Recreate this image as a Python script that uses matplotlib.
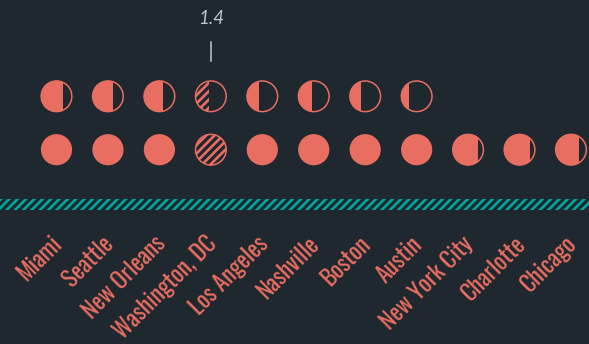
import matplotlib.pyplot as plt
import matplotlib.patches as mpatches
from matplotlib import font_manager

# cities and their score (one circle per whole unit, partial circle for the rest)
cities = ["Miami", "Seattle", "New Orleans", "Washington, DC", "Los Angeles",
          "Nashville", "Boston", "Austin", "New York City", "Charlotte", "Chicago"]
scores = [1.72, 1.65, 1.60, 1.44, 1.39, 1.43, 1.35, 1.24, 0.83, 0.82, 0.75]
highlight = "Washington, DC"

BG = "#1f272f"
CORAL = "#e86e61"
TEAL = "#00a8a0"
GREY = "#c3c7cc"


def pick_narrow_font():
    # prefer a condensed face for the city labels
    fonts = font_manager.fontManager.ttflist
    names = {f.name for f in fonts}
    for fam in ["Oswald", "Roboto Condensed", "Liberation Sans Narrow",
                "Open Sans Condensed", "Noto Sans Condensed", "DejaVu Sans Condensed"]:
        if fam in names:
            return fam, "normal"
    for fam in ["Noto Sans", "DejaVu Sans", "Open Sans"]:
        for f in fonts:
            if f.name == fam and f.stretch in ("condensed", "semi-condensed",
                                                "extra-condensed"):
                return fam, f.stretch
    return "Roboto", "normal"


label_font, label_stretch = pick_narrow_font()

W, H = 589, 344
fig = plt.figure(figsize=(W / 100, H / 100), dpi=100, facecolor=BG)
ax = fig.add_axes([0, 0, 1, 1], facecolor=BG)
ax.set_axis_off()

# pixels per data unit in x (column step) and y (row step)
px_x, px_y = 51.45, 53.4
x0, y0 = 56.5, 149.7
ax.set_xlim(-x0 / px_x, (W - x0) / px_x)
ax.set_ylim(-(H - y0) / px_y, y0 / px_y)

r_px = 15.6
rx, ry = r_px / px_x, r_px / px_y


def moon(x, y, frac, hatched=False):
    """circle filled from the left up to frac of its width"""
    clip = mpatches.Rectangle((x - rx, y - ry - 0.1), 2 * rx * frac, 2 * ry + 0.2,
                              transform=ax.transData)
    if hatched:
        plt.rcParams["hatch.linewidth"] = 1.9
        body = mpatches.Ellipse((x, y), 2 * rx, 2 * ry, facecolor="none",
                                edgecolor=CORAL, lw=0, hatch="////")
    else:
        body = mpatches.Ellipse((x, y), 2 * rx, 2 * ry, facecolor=CORAL,
                                edgecolor="none", lw=0)
    ax.add_patch(body)
    if frac < 1:
        body.set_clip_path(clip)
    if frac < 1 or hatched:
        ax.add_patch(mpatches.Ellipse((x, y), 2 * rx - 0.01, 2 * ry - 0.01,
                                      facecolor="none", edgecolor=CORAL, lw=1.1))


for i, (city, s) in enumerate(zip(cities, scores)):
    hl = city == highlight
    moon(i, 0, min(s, 1.0), hatched=hl)
    if s > 1:
        moon(i, 1, s - 1, hatched=hl)
    ax.text(i - 0.12, (y0 - 232) / px_y, city, rotation=45, rotation_mode="anchor",
            ha="right", va="top", color=CORAL, fontsize=17,
            family=[label_font, "DejaVu Sans"], fontstretch=label_stretch)

# value call-out above the highlighted city
hi = cities.index(highlight)
ax.plot([hi, hi], [(y0 - 42) / px_y, (y0 - 61) / px_y], color=GREY, lw=1.1)
ax.text(hi, (y0 - 18) / px_y, f"{scores[hi]:.1f}", ha="center", va="center",
        color=GREY, fontsize=13.5, style="italic", family="Lato")

# striped baseline band
plt.rcParams["hatch.linewidth"] = 1.9
ax.axhspan((y0 - 210) / px_y, (y0 - 198.5) / px_y, facecolor="none",
           edgecolor=TEAL, lw=0, hatch="////")

fig.savefig("out.png", dpi=100, facecolor=BG)
